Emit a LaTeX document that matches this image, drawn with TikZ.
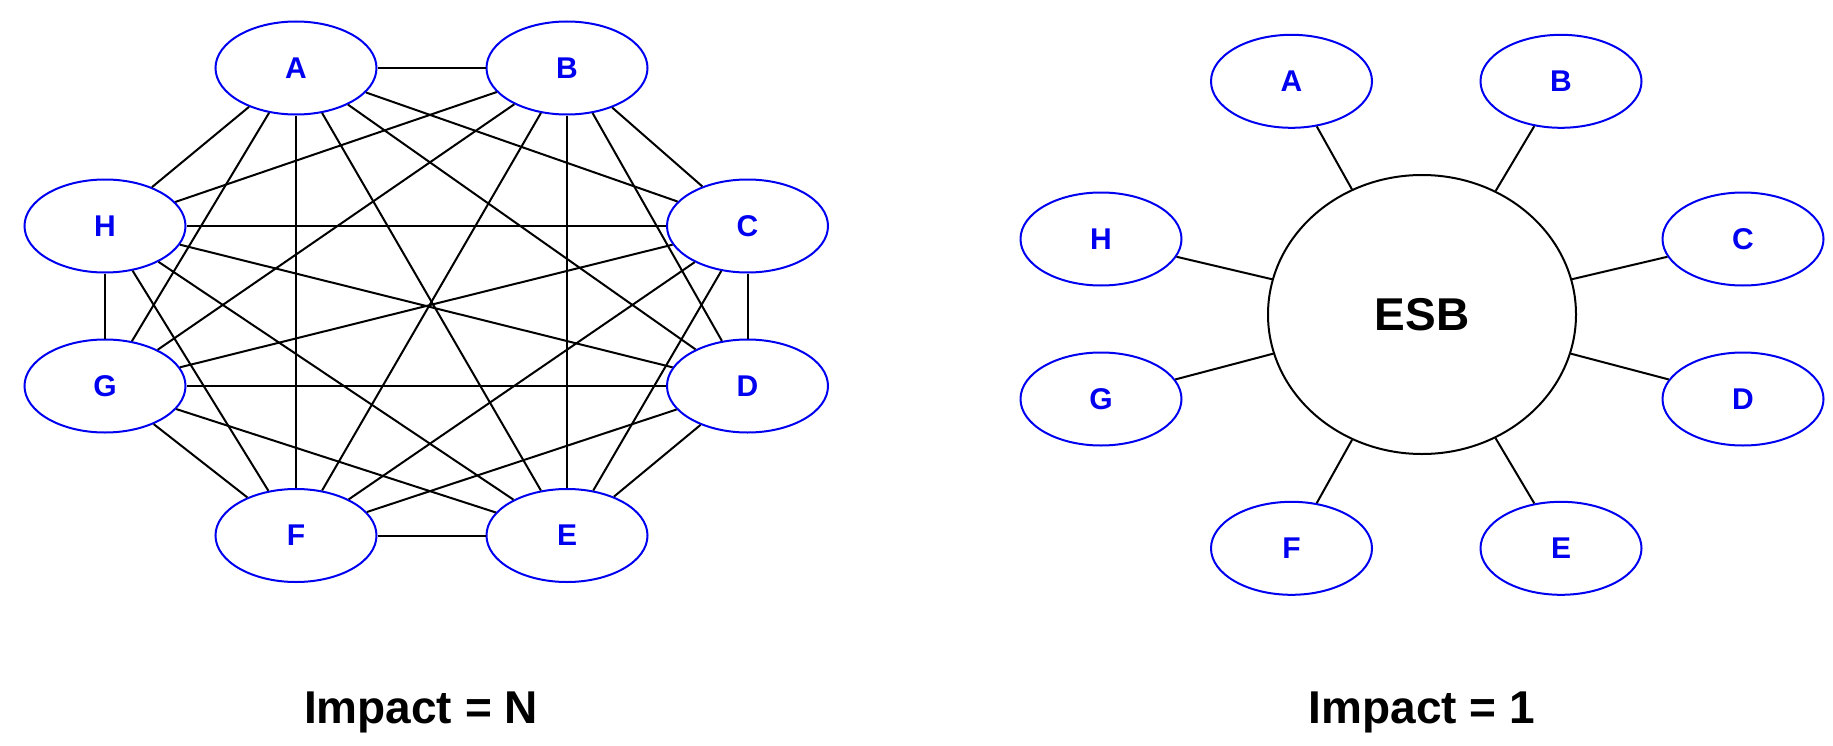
\documentclass[tikz,border=0pt]{standalone}
\usepackage{fontspec}
\setmainfont{Liberation Sans}
\usetikzlibrary{shapes.geometric}
\definecolor{nodeblue}{RGB}{0,0,240}
\tikzset{
  peer/.style={ellipse, draw=nodeblue, line width=2bp, minimum width=161bp, minimum height=93bp, inner sep=0pt,
    text=nodeblue, font=\fontsize{30bp}{36bp}\selectfont\bfseries},
  hub/.style={ellipse, draw=black, line width=2bp, minimum width=308bp, minimum height=279bp, inner sep=0pt,
    font=\fontsize{46bp}{54bp}\selectfont\bfseries},
  link/.style={draw=black, line width=2bp},
  caption/.style={anchor=base, inner sep=0pt, font=\fontsize{46bp}{54bp}\selectfont\bfseries}
}
\begin{document}
\begin{tikzpicture}[x=1bp, y=-1bp]
\useasboundingbox (0,0) rectangle (1833,746);
% left: point-to-point
\node[peer] (A) at (296,68) {A};
\node[peer] (B) at (567,68) {B};
\node[peer] (H) at (105,226) {H};
\node[peer] (C) at (747.5,226) {C};
\node[peer] (G) at (105,386) {G};
\node[peer] (D) at (747.5,386) {D};
\node[peer] (F) at (296,535.5) {F};
\node[peer] (E) at (567,535.5) {E};
\foreach \u/\v in {A/B,A/C,A/D,A/E,A/F,A/G,A/H,
                   B/C,B/D,B/E,B/F,B/G,B/H,
                   C/D,C/E,C/F,C/G,C/H,
                   D/E,D/F,D/G,D/H,
                   E/F,E/G,E/H,
                   F/G,F/H,
                   G/H}
  \draw[link] (\u) -- (\v);
\node[caption] (capN) at (421,723) {Impact = N};
% right: ESB
\node[hub] (ESB) at (1422,314.5) {ESB};
\node[peer] (rA) at (1291.5,81.3) {A};
\node[peer] (rB) at (1561,81.3) {B};
\node[peer] (rH) at (1101,239) {H};
\node[peer] (rC) at (1743,239) {C};
\node[peer] (rG) at (1101,399) {G};
\node[peer] (rD) at (1743,399) {D};
\node[peer] (rF) at (1291.5,548.3) {F};
\node[peer] (rE) at (1561,548.3) {E};
\foreach \v in {rA,rB,rC,rD,rE,rF,rG,rH}
  \draw[link] (ESB) -- (\v);
\node[caption] (cap1) at (1422,723) {Impact = 1};
\end{tikzpicture}
\end{document}
